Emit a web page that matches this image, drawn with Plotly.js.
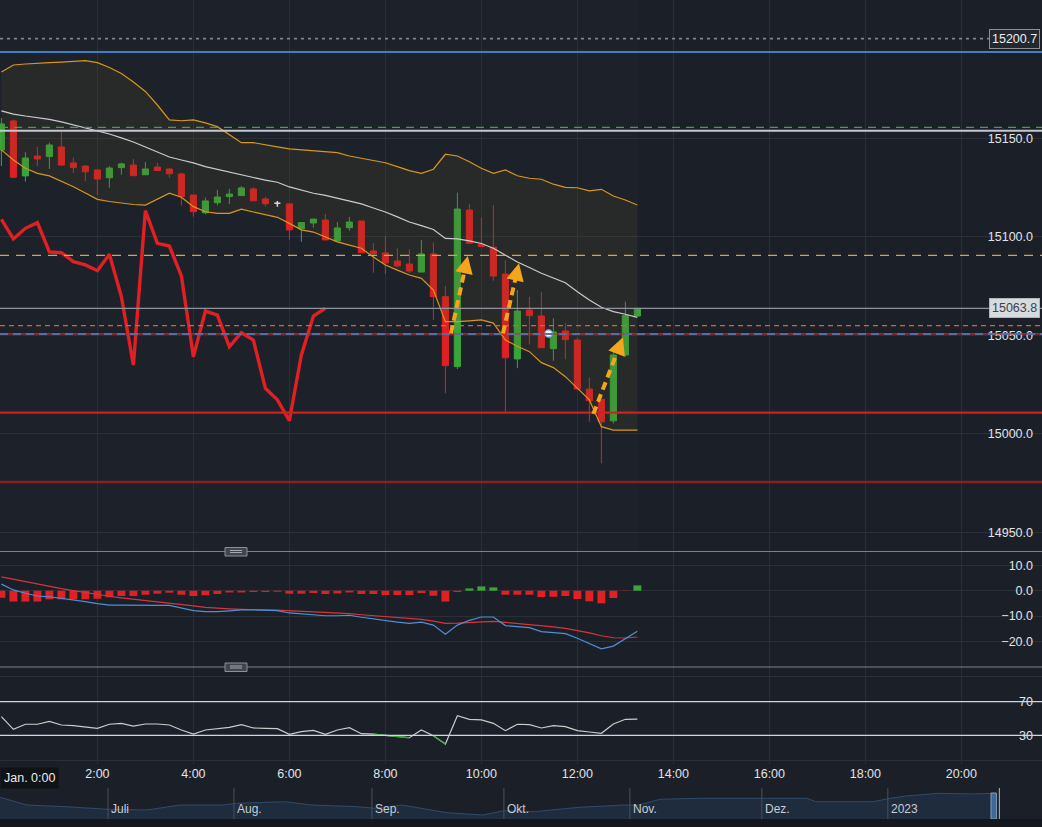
<!DOCTYPE html>
<html><head><meta charset="utf-8">
<script src="https://cdn.plot.ly/plotly-3.0.1.min.js"></script>
<style>html,body{margin:0;padding:0;background:#1b1f28;overflow:hidden}#chart{width:1042px;height:827px}</style>
</head><body><div id="chart"></div>
<script>
// ---------- data ----------
const times = ['0:00','0:15','0:30','0:45','1:00','1:15','1:30','1:45','2:00','2:15','2:30','2:45','3:00','3:15','3:30','3:45','4:00','4:15','4:30','4:45','5:00','5:15','5:30','5:45','6:00','6:15','6:30','6:45','7:00','7:15','7:30','7:45','8:00','8:15','8:30','8:45','9:00','9:15','9:30','9:45','10:00','10:15','10:30','10:45','11:00','11:15','11:30','11:45','12:00','12:15','12:30','12:45','13:00','13:15'];
const open  = [15144.2,15158.9,15131.0,15141.1,15140.8,15145.7,15137.6,15136.0,15134.0,15130.1,15135.2,15136.5,15131.6,15135.5,15134.5,15132.0,15121.3,15112.3,15117.4,15120.5,15121.0,15124.4,15119.3,15117.1,15116.8,15104.2,15107.1,15108.6,15098.0,15104.7,15108.1,15092.9,15091.9,15087.8,15086.3,15082.2,15091.4,15069.7,15034.2,15113.7,15096.3,15094.8,15081.2,15038.1,15062.9,15059.9,15043.3,15052.3,15047.7,15022.8,15017.6,15006.7,15040.1,15059.9];
const high  = [15160.4,15159.5,15143.0,15145.8,15147.9,15153.5,15140.3,15136.5,15134.4,15136.0,15137.7,15139.6,15138.1,15137.6,15135.0,15132.6,15121.3,15120.0,15123.9,15124.4,15125.9,15125.2,15120.3,15118.3,15116.8,15107.6,15109.1,15111.7,15107.6,15110.2,15108.1,15096.8,15100.5,15094.3,15093.8,15098.5,15097.3,15075.1,15122.5,15116.8,15109.8,15116.2,15088.3,15073.1,15069.7,15072.1,15058.7,15056.2,15048.9,15028.6,15017.6,15044.0,15067.2,15063.8];
const low   = [15136.0,15130.0,15128.1,15136.0,15134.5,15136.5,15132.6,15128.4,15121.3,15125.0,15131.6,15131.1,15131.6,15133.7,15130.1,15115.9,15110.3,15111.5,15116.1,15116.8,15121.0,15118.4,15115.4,15115.4,15098.5,15097.6,15104.8,15098.5,15098.0,15103.2,15092.0,15081.9,15081.1,15084.6,15081.7,15082.2,15057.9,15020.7,15033.0,15096.8,15095.1,15077.8,15011.3,15033.4,15045.5,15043.8,15037.2,15037.9,15022.8,15006.2,14985.1,15005.4,15039.2,15059.9];
const close = [15157.4,15130.3,15140.1,15139.6,15146.7,15136.5,15135.2,15133.1,15129.4,15135.0,15137.1,15131.1,15134.5,15133.7,15132.1,15120.5,15112.8,15118.3,15120.3,15121.8,15124.9,15118.4,15116.9,15117.1,15103.6,15107.3,15109.1,15098.5,15104.6,15107.6,15092.0,15091.5,15086.8,15085.3,15082.7,15091.4,15069.7,15034.7,15114.2,15096.8,15095.1,15080.2,15038.7,15062.4,15060.1,15043.8,15051.8,15047.9,15022.8,15016.9,15006.2,15040.1,15060.1,15063.8];

const bbUpper = [15183.8,15187.3,15187.8,15188.3,15188.5,15188.8,15189.2,15189.5,15188.5,15186.0,15183.0,15178.7,15173.9,15167.0,15159.4,15159.0,15159.4,15157.9,15156.0,15152.0,15147.9,15147.9,15146.7,15145.7,15144.7,15144.2,15143.7,15143.4,15142.8,15141.1,15140.0,15139.1,15137.7,15135.7,15133.7,15132.3,15134.4,15142.0,15141.1,15138.2,15134.9,15132.3,15134.0,15131.1,15129.8,15129.3,15126.8,15125.2,15125.0,15123.4,15124.2,15120.8,15118.8,15116.2];
const bbMiddle = [15164.0,15162.4,15161.4,15160.6,15159.7,15158.4,15156.9,15155.3,15153.8,15152.3,15150.3,15148.2,15145.7,15143.1,15140.6,15139.1,15137.6,15135.7,15134.3,15132.7,15131.3,15130.2,15128.9,15127.8,15125.4,15123.9,15122.2,15121.1,15119.6,15118.4,15116.8,15114.7,15112.7,15110.2,15107.6,15105.8,15103.8,15099.3,15099.0,15098.0,15096.7,15094.3,15090.9,15087.3,15084.5,15081.6,15079.2,15076.8,15072.2,15068.0,15064.3,15062.1,15060.8,15059.2];
const bbLower = [15144.2,15139.1,15134.9,15132.3,15131.0,15128.4,15125.5,15122.3,15119.1,15118.0,15117.1,15116.5,15116.2,15119.3,15122.2,15120.2,15115.4,15112.8,15112.0,15112.0,15114.1,15112.7,15111.2,15110.0,15106.9,15103.6,15102.5,15100.0,15097.5,15095.9,15094.3,15089.8,15085.8,15083.2,15080.7,15079.0,15073.1,15057.0,15057.0,15057.4,15057.9,15056.3,15047.7,15044.5,15041.8,15036.2,15033.7,15029.1,15023.2,15017.3,15003.7,15002.0,15002.0,15002.0];

const redLine = [15109.0,15099.0,15104.4,15107.3,15092.4,15092.0,15087.5,15085.8,15082.9,15091.2,15069.7,15035.0,15113.4,15096.8,15095.4,15080.2,15039.2,15062.4,15060.3,15044.3,15051.4,15047.7,15023.2,15017.3,15006.8,15040.1,15059.9,15063.8];

const macdHist = [-2.8,-4.3,-4.3,-4.3,-3.4,-3.4,-3.4,-3.4,-3.2,-2.6,-2.1,-2.1,-1.6,-1.2,-0.8,-1.6,-2.1,-1.8,-1.3,-0.7,-0.7,-0.5,-0.5,-0.4,-1.2,-1.2,-0.9,-1.3,-1.1,-0.7,-1.3,-1.3,-1.7,-1.7,-1.7,-0.9,-2.0,-4.3,-0.5,0.9,1.7,1.3,-1.6,-1.6,-1.6,-2.5,-2.4,-2.1,-3.3,-4.2,-5.0,-2.9,-0.1,2.1];
const macdLine = [2.6,0.3,-1.0,-2.1,-2.4,-3.0,-3.7,-4.3,-5.1,-5.7,-5.7,-5.8,-5.8,-5.8,-5.8,-6.8,-7.9,-8.3,-8.3,-8.0,-7.6,-7.6,-7.8,-7.9,-8.8,-9.2,-9.4,-9.9,-9.9,-9.7,-10.5,-11.2,-11.9,-12.4,-12.9,-12.4,-13.6,-17.2,-13.6,-11.7,-10.4,-10.4,-13.8,-14.3,-14.6,-16.2,-16.6,-17.0,-18.8,-20.9,-23.0,-21.9,-19.1,-16.0];
const macdSignal = [5.5,4.5,3.6,2.6,1.7,0.8,0.0,-0.8,-1.6,-2.2,-2.8,-3.3,-3.8,-4.3,-4.9,-5.4,-6.0,-6.6,-7.0,-7.2,-7.4,-7.4,-7.6,-7.7,-7.9,-8.2,-8.4,-8.7,-9.0,-9.1,-9.5,-9.8,-10.2,-10.6,-10.9,-11.3,-12.0,-12.9,-12.8,-12.5,-12.2,-12.1,-12.5,-12.9,-13.3,-13.8,-14.3,-14.9,-15.7,-16.7,-17.8,-18.6,-18.7,-18.3];

const rsi = [52.1,37.1,43.1,43.1,46.6,42.2,41.4,40.2,38.3,43.1,44.2,41.0,43.4,43.4,42.2,36.3,31.5,36.3,38.3,39.5,42.6,38.7,38.3,37.9,31.2,34.3,35.9,31.2,36.3,39.0,31.9,31.5,30.0,28.8,27.1,36.3,29.5,19.7,53.3,49.0,48.2,44.2,35.5,43.1,42.6,38.7,41.4,40.2,35.5,33.9,32.4,43.4,49.0,49.3];

const mainTicks = [14950, 15000, 15050, 15100, 15150];
const macdTicks = [-20, -10, 0, 10];
const rsiLevels = [30, 70];
const xTickLabels = ['2:00','4:00','6:00','8:00','10:00','12:00','14:00','16:00','18:00','20:00'];
const firstLabel = 'Jan. 0:00';

const levelPrices = [15200.7, 15193.9, 15155.6, 15153.9, 15090.7, 15063.8, 15055.0, 15050.8, 15050.8, 15010.8, 14975.6];
const priceTags = [15200.7, 15063.8];

const arrowFrom = [['9:22', 15051.1], ['10:27', 15051.1], ['12:20', 15010.2]];
const arrowTo   = [['9:43', 15090.4], ['10:47', 15086.7], ['12:57', 15049.1]];
const dotTime = ['11:24'];
const dotPrice = [15051.0];

const navMonths = ['Juli','Aug.','Sep.','Okt.','Nov.','Dez.','2023'];
const navMonthStart = [18, 39, 62, 84, 105, 127, 148];
const navIndex = [0,4.5,11,18,24.5,30,37,39.5,47.5,52,59.5,62.5,67,74.5,80.5,84,89,96.5,104,106.5,110,116.5,128,134.5,136,145.5,148.5,151,156.5,162,166];
const navValue = [14520,13400,13160,12780,12680,13400,13400,13650,13880,13400,13160,12930,13400,12290,11950,12580,12430,13070,13400,13400,14230,14380,14380,14380,13880,13880,14380,14710,15100,15000,15100];

// ---------- helpers ----------
const toH = t => { const p = t.split(':').map(Number); return p[0] + p[1] / 60; };
const x = times.map(toH);
const H = 827, W = 1042;
const py = y => 1 - y / H;
const xRange = [-0.029, 21.68];
const yMain = [14940.6, 15220.3];
const yMacd = [-30.16, 15.3];
const yRsi = [-4.07, 111.07];
const yNav = [11373, 15869];
const xNav = [0, 173.7];

const BG = '#1b1f28', GRID = '#2a2f38', TXT = '#e2e4e8';
const FONT = 'Liberation Sans, Arial, sans-serif';
const GREEN = '#3aa63a', RED = '#e21f22';

// candles split: regular vs doji
const reg = [], doj = [];
x.forEach((v, i) => (open[i] === close[i] ? doj : reg).push(i));
const pick = (arr, idx) => idx.map(i => arr[i]);

const traces = [];
// Bollinger
traces.push({x: x, y: bbLower, type: 'scatter', mode: 'lines', line: {color: '#d9961c', width: 1.2}, hoverinfo: 'skip', xaxis: 'x', yaxis: 'y'});
traces.push({x: x, y: bbUpper, type: 'scatter', mode: 'lines', fill: 'tonexty', fillcolor: 'rgba(95,90,45,0.17)', line: {color: '#d9961c', width: 1.2}, hoverinfo: 'skip', xaxis: 'x', yaxis: 'y'});
traces.push({x: x, y: bbMiddle, type: 'scatter', mode: 'lines', line: {color: '#c9cbce', width: 1.2}, hoverinfo: 'skip', xaxis: 'x', yaxis: 'y'});
// red indicator
traces.push({x: x.slice(0, redLine.length), y: redLine, type: 'scatter', mode: 'lines', line: {color: RED, width: 3.4}, hoverinfo: 'skip', xaxis: 'x', yaxis: 'y'});
// candles
traces.push({type: 'candlestick', x: pick(x, reg), open: pick(open, reg), high: pick(high, reg), low: pick(low, reg), close: pick(close, reg),
  increasing: {line: {color: GREEN, width: 1}, fillcolor: GREEN}, decreasing: {line: {color: RED, width: 1}, fillcolor: RED},
  whiskerwidth: 0, hoverinfo: 'skip', xaxis: 'x', yaxis: 'y'});
traces.push({type: 'candlestick', x: pick(x, doj), open: pick(open, doj), high: pick(high, doj), low: pick(low, doj), close: pick(close, doj),
  increasing: {line: {color: '#f2f2f2', width: 1.5}, fillcolor: '#f2f2f2'}, decreasing: {line: {color: '#f2f2f2', width: 1.5}, fillcolor: '#f2f2f2'},
  whiskerwidth: 0, hoverinfo: 'skip', xaxis: 'x', yaxis: 'y'});
// dot marker
traces.push({x: dotTime.map(toH), y: dotPrice, type: 'scatter', mode: 'markers', marker: {color: '#ffffff', size: 7, line: {color: '#8fb8e8', width: 1.5}}, hoverinfo: 'skip', xaxis: 'x', yaxis: 'y'});

// MACD
traces.push({x: x, y: macdHist, type: 'bar', width: 0.165, marker: {color: macdHist.map(v => v >= 0 ? GREEN : RED)}, hoverinfo: 'skip', xaxis: 'x', yaxis: 'y2'});
traces.push({x: x, y: macdSignal, type: 'scatter', mode: 'lines', line: {color: '#d8343c', width: 1.2}, hoverinfo: 'skip', xaxis: 'x', yaxis: 'y2'});
traces.push({x: x, y: macdLine, type: 'scatter', mode: 'lines', line: {color: '#4d90d6', width: 1.2}, hoverinfo: 'skip', xaxis: 'x', yaxis: 'y2'});

// RSI
const lowThr = rsiLevels[0] + 1.6;
const rsiLow = rsi.map((v, i) => (v <= lowThr && ((i > 0 && rsi[i - 1] <= lowThr) || (i < rsi.length - 1 && rsi[i + 1] <= lowThr))) ? v : null);
traces.push({x: x, y: rsi, type: 'scatter', mode: 'lines', line: {color: '#c9cbce', width: 1.2}, hoverinfo: 'skip', xaxis: 'x', yaxis: 'y3'});
traces.push({x: x, y: rsiLow, type: 'scatter', mode: 'lines', connectgaps: false, line: {color: GREEN, width: 1.3}, hoverinfo: 'skip', xaxis: 'x', yaxis: 'y3'});

// Navigator
traces.push({x: navIndex, y: navValue, type: 'scatter', mode: 'lines', fill: 'tozeroy', fillcolor: '#1f2c3e', line: {color: '#2f4b6b', width: 1}, hoverinfo: 'skip', xaxis: 'x2', yaxis: 'y4'});

// ---------- shapes ----------
const levelStyle = [
  {color: '#7f858e', width: 1.6, dash: '3px,4px'},
  {color: '#3b82c4', width: 2.2, dash: 'solid'},
  {color: '#4e9a4e', width: 1.3, dash: '8px,6px'},
  {color: '#c3c7cf', width: 2, dash: 'solid'},
  {color: '#d8a24a', width: 1.3, dash: '9px,7px'},
  {color: '#8e949e', width: 1.2, dash: 'solid'},
  {color: '#e0602c', width: 1.4, dash: '5px,4px'},
  {color: '#cf2a2a', width: 1.2, dash: 'solid'},
  {color: '#5d6b9e', width: 2, dash: '8px,5px'},
  {color: '#d21f22', width: 2.2, dash: 'solid'},
  {color: '#8a2024', width: 2.6, dash: 'solid'}
];
const shapes = [];
levelPrices.forEach((p, i) => shapes.push({type: 'line', xref: 'paper', yref: 'y', x0: 0, x1: 1, y0: p, y1: p, line: levelStyle[i]}));

// panel separators + handles
[551.5, 667].forEach(yy => {
  shapes.push({type: 'line', xref: 'paper', yref: 'paper', x0: 0, x1: 1, y0: py(yy), y1: py(yy), line: {color: '#7c818a', width: 1.2}});
  shapes.push({type: 'rect', xref: 'paper', yref: 'paper', x0: 225 / W, x1: 247 / W, y0: py(yy + 4.5), y1: py(yy - 4), fillcolor: '#41454d', line: {color: '#8c9199', width: 1}});
  [-1, 1].forEach(o => shapes.push({type: 'line', xref: 'paper', yref: 'paper', x0: 230 / W, x1: 242 / W, y0: py(yy + o), y1: py(yy + o), line: {color: '#a6abb2', width: 1}}));
});
// RSI 30/70 lines
rsiLevels.forEach(v => shapes.push({type: 'line', xref: 'paper', yref: 'y3', x0: 0, x1: 1, y0: v, y1: v, line: {color: '#c6d8ec', width: 1.2}}));
// session shading
shapes.push({type: 'rect', layer: 'below', xref: 'x', yref: 'y', x0: xRange[0], x1: x[x.length - 1] + 0.02, y0: yMain[0], y1: yMain[1], fillcolor: 'rgba(255,255,255,0.012)', line: {width: 0}});

// arrows: dashed shafts
const pxPerH = W / (xRange[1] - xRange[0]);
const pxPerPt = 551 / (yMain[1] - yMain[0]);
const annotations = [];
arrowFrom.forEach((f, i) => {
  const x0 = toH(f[0]), y0 = f[1], x1 = toH(arrowTo[i][0]), y1 = arrowTo[i][1];
  const sx = (x1 - x0) * pxPerH, sy = -(y1 - y0) * pxPerPt;
  const len = Math.hypot(sx, sy);
  const cut = 8 / len;
  shapes.push({type: 'line', xref: 'x', yref: 'y', x0: x0, y0: y0, x1: x1 - (x1 - x0) * cut, y1: y1 - (y1 - y0) * cut,
    line: {color: '#f5a51c', width: 4, dash: '8px,5px'}});
  annotations.push({x: x1, y: y1, xref: 'x', yref: 'y', text: '', showarrow: true, arrowhead: 2, arrowsize: 1.1, arrowwidth: 3.2,
    arrowcolor: '#f5a51c', ax: -sx / len * 9, ay: -sy / len * 9});
});

// navigator month separators + labels
navMonthStart.forEach((d, i) => {
  shapes.push({type: 'line', xref: 'x2', yref: 'paper', x0: d, x1: d, y0: py(819), y1: py(788), line: {color: '#4a505a', width: 1}});
  annotations.push({x: d, y: py(809), xref: 'x2', yref: 'paper', text: navMonths[i], showarrow: false, xanchor: 'left', yanchor: 'middle', xshift: 1, font: {family: FONT, size: 12, color: '#c9cdd3'}});
});
// navigator selection handle
shapes.push({type: 'rect', xref: 'x2', yref: 'paper', x0: 165.2, x1: 166.1, y0: py(819), y1: py(793), fillcolor: '#3d6897', line: {color: '#7f9cc0', width: 1}});
shapes.push({type: 'line', xref: 'x2', yref: 'paper', x0: 166.6, x1: 166.6, y0: py(819), y1: py(788), line: {color: '#9aa0a8', width: 1.2}});
// bottom strip
shapes.push({type: 'rect', xref: 'paper', yref: 'paper', x0: 0, x1: 1, y0: 0, y1: py(819), fillcolor: '#14171c', line: {width: 0}});

// price tags
annotations.push({x: 1, y: priceTags[0], xref: 'paper', yref: 'y', xanchor: 'right', yanchor: 'middle', xshift: -2, text: priceTags[0].toFixed(1), showarrow: false,
  bgcolor: '#23272e', bordercolor: '#8a9099', borderwidth: 1, borderpad: 2, font: {family: FONT, size: 12.5, color: '#eceef0'}});
annotations.push({x: 1, y: priceTags[1], xref: 'paper', yref: 'y', xanchor: 'right', yanchor: 'middle', xshift: -2, text: priceTags[1].toFixed(1), showarrow: false,
  bgcolor: '#d7dade', bordercolor: '#b3b7bd', borderwidth: 1, borderpad: 2, font: {family: FONT, size: 12.5, color: '#3c414a'}});
// first x label box
annotations.push({x: 0, y: py(778), xref: 'paper', yref: 'paper', xanchor: 'left', yanchor: 'middle', xshift: 0, text: firstLabel, showarrow: false,
  bgcolor: '#0f1216', borderpad: 3, font: {family: FONT, size: 12.5, color: '#eceef0'}});

const yCommon = {side: 'right', anchor: 'x', ticklabelposition: 'inside', ticks: '', showline: false, zeroline: false,
  gridcolor: GRID, gridwidth: 1, tickfont: {family: FONT, size: 12.5, color: TXT}, ticklabelstandoff: 6, fixedrange: true};

const layout = {
  width: W, height: H,
  margin: {l: 0, r: 0, t: 0, b: 0, pad: 0},
  paper_bgcolor: BG, plot_bgcolor: BG,
  showlegend: false, dragmode: false, boxgap: 0.27,
  xaxis: {domain: [0, 1], anchor: 'y3', range: xRange, tickvals: xTickLabels.map(toH), ticktext: xTickLabels,
    showgrid: true, gridcolor: GRID, zeroline: false, showline: false, ticks: '',
    tickfont: {family: FONT, size: 12.5, color: TXT}, rangeslider: {visible: false}, fixedrange: true},
  yaxis: Object.assign({}, yCommon, {domain: [py(551), 1], range: yMain, tickvals: mainTicks, tickformat: '.1f'}),
  yaxis2: Object.assign({}, yCommon, {domain: [py(667), py(552)], range: yMacd, tickvals: macdTicks, tickformat: '.1f'}),
  yaxis3: Object.assign({}, yCommon, {domain: [py(764), py(667)], range: yRsi, tickvals: [0].concat(rsiLevels, [100]), ticktext: [''].concat(rsiLevels.map(String), [''])}),
  xaxis2: {domain: [0, 1], anchor: 'y4', range: xNav, showgrid: false, zeroline: false, showticklabels: false, ticks: '', fixedrange: true},
  yaxis4: {domain: [py(819), py(788)], anchor: 'x2', range: yNav, showgrid: false, zeroline: false, showticklabels: false, ticks: '', fixedrange: true},
  shapes: shapes,
  annotations: annotations
};

Plotly.newPlot('chart', traces, layout, {staticPlot: true, displayModeBar: false});
</script></body></html>
